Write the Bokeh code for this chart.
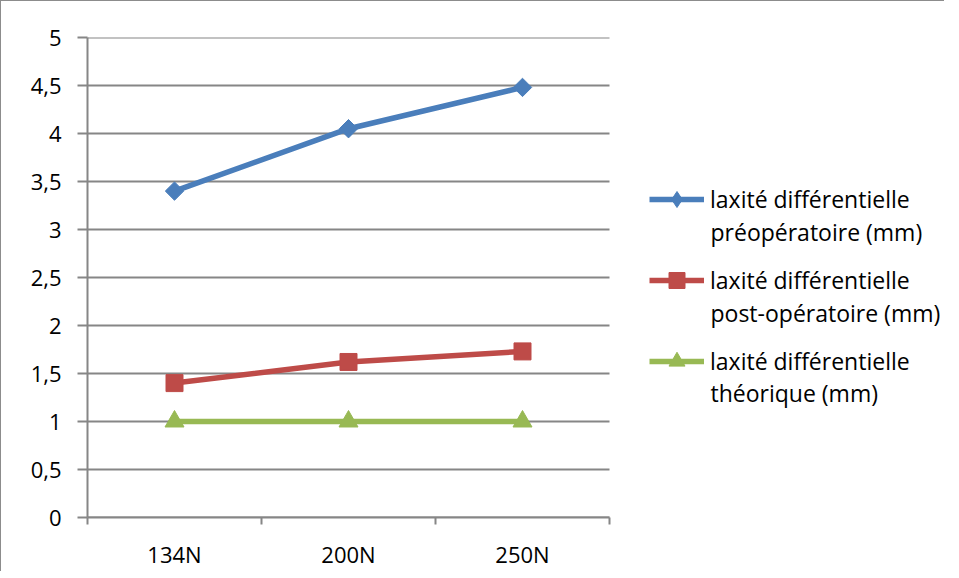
import math
from bokeh.plotting import figure
from bokeh.models import Range1d, FixedTicker, Legend, LegendItem, Label
from bokeh.embed import file_html
from bokeh.resources import INLINE

# ---- data ----
categories = ["134N", "200N", "250N"]
pre_op = [3.40, 4.05, 4.48]
post_op = [1.40, 1.62, 1.73]
theorique = [1.0, 1.0, 1.0]
series_line1 = ["laxité différentielle", "laxité différentielle", "laxité différentielle"]
series_line2 = ["préopératoire (mm)", "post-opératoire (mm)", "théorique (mm)"]
y_ticks = [0, 0.5, 1, 1.5, 2, 2.5, 3, 3.5, 4, 4.5, 5]
y_tick_labels = ["0", "0,5", "1", "1,5", "2", "2,5", "3", "3,5", "4", "4,5", "5"]

FONT = "Open Sans"
GRID = "#868686"
BLUE = "#4A7EBB"
RED = "#BE4B48"
GREEN = "#98B954"

# layout (pixels)
LEFT, TOP, BOTTOM = 86, 36, 46
FRAME_W, FRAME_H = 857, 480     # frame extends under the legend area
PLOT_W = 522                    # width of the category axis part

n = len(categories)
xs = [i + 0.5 for i in range(n)]
x_max = n * FRAME_W / PLOT_W

p = figure(width=LEFT + FRAME_W, height=TOP + FRAME_H + BOTTOM,
           frame_width=FRAME_W, frame_height=FRAME_H,
           output_backend="svg", toolbar_location=None,
           x_range=Range1d(0, x_max), y_range=Range1d(0, 5),
           min_border_left=LEFT, min_border_top=TOP, min_border_bottom=BOTTOM,
           min_border_right=0)
p.styles = {"border-left": "1px solid #8c8c8c", "border-top": "1px solid #8c8c8c"}
p.outline_line_color = None
p.background_fill_color = "white"
p.border_fill_color = "white"

# x axis: labels at category centres, tick marks between categories
p.xaxis.bounds = (0, n)
p.xaxis.ticker = FixedTicker(ticks=xs, minor_ticks=list(range(n + 1)))
p.xaxis.major_label_overrides = {x: c for x, c in zip(xs, categories)}
p.xaxis.major_tick_line_color = None
p.xaxis.minor_tick_line_color = GRID
p.xaxis.minor_tick_line_width = 2
p.xaxis.minor_tick_out = 7
p.xaxis.minor_tick_in = 0
p.xaxis.axis_line_color = GRID
p.xaxis.axis_line_width = 2
p.xaxis.major_label_text_font = FONT
p.xaxis.major_label_text_font_size = "22px"
p.xaxis.major_label_text_color = "black"
p.xaxis.major_label_standoff = 14
p.xgrid.grid_line_color = None

# y axis
p.yaxis.ticker = FixedTicker(ticks=y_ticks, minor_ticks=[])
p.yaxis.major_label_overrides = {t: l for t, l in zip(y_ticks, y_tick_labels)}
p.yaxis.axis_line_color = GRID
p.yaxis.axis_line_width = 2
p.yaxis.major_tick_line_color = GRID
p.yaxis.major_tick_line_width = 2
p.yaxis.major_tick_out = 10
p.yaxis.major_tick_in = 0
p.yaxis.minor_tick_line_color = None
p.yaxis.major_label_text_font = FONT
p.yaxis.major_label_text_font_size = "22px"
p.yaxis.major_label_text_color = "black"
p.yaxis.major_label_standoff = 16
p.ygrid.grid_line_color = None

# horizontal gridlines limited to the category-axis width
p.segment(x0=[0] * len(y_ticks), x1=[n] * len(y_ticks), y0=y_ticks, y1=y_ticks,
          line_color=GRID, line_width=2)

# series
l1 = p.line(xs, pre_op, line_color=BLUE, line_width=5.5)
m1_leg = p.scatter(xs, pre_op, marker="diamond", size=16, fill_color=BLUE, line_color=BLUE)
m1 = p.scatter(xs, pre_op, marker="square", angle=math.pi / 4, size=13,
               fill_color=BLUE, line_color=BLUE)
l2 = p.line(xs, post_op, line_color=RED, line_width=5.5)
m2 = p.scatter(xs, post_op, marker="square", size=17, fill_color=RED, line_color=RED)
l3 = p.line(xs, theorique, line_color=GREEN, line_width=5.5)
m3 = p.scatter(xs, theorique, marker="triangle", size=19, fill_color=GREEN, line_color=GREEN)

items = [
    LegendItem(label=series_line1[0], renderers=[l1, m1_leg]),
    LegendItem(label=series_line1[1], renderers=[l2, m2]),
    LegendItem(label=series_line1[2], renderers=[l3, m3]),
]
legend = Legend(items=items, location=(562, 136), orientation="vertical")
legend.border_line_color = None
legend.background_fill_alpha = 0
legend.margin = 0
legend.padding = 0
legend.spacing = 41
legend.glyph_width = 55
legend.glyph_height = 40
legend.label_height = 40
legend.label_standoff = 6
legend.label_text_font = FONT
legend.label_text_font_size = "23px"
legend.label_text_color = "black"
p.add_layout(legend, "center")

# second line of each legend entry
for txt, y in zip(series_line2, [286, 205, 125]):
    p.add_layout(Label(x=623, y=y, x_units="screen", y_units="screen", text=txt,
                       text_font=FONT, text_font_size="23px", text_color="black",
                       text_baseline="middle", text_align="left"))

open("out.html", "w").write(file_html(p, INLINE))
